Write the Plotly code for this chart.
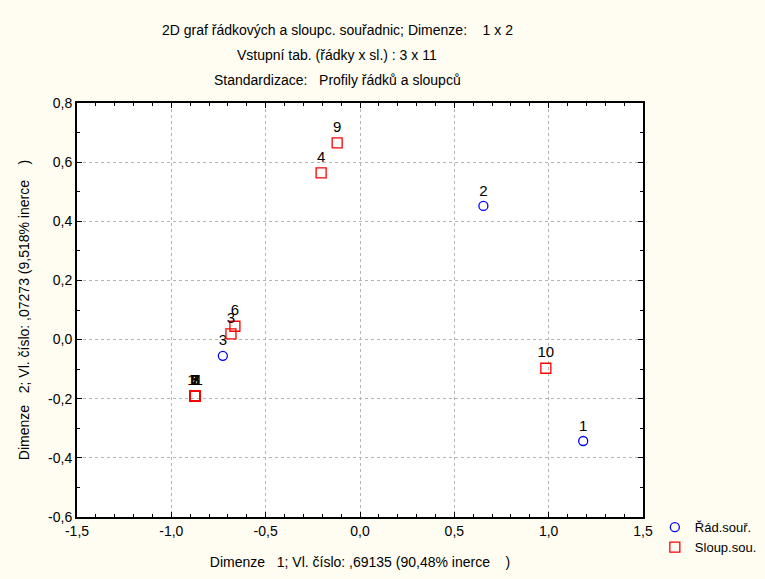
import plotly.graph_objects as go

# Row coordinates (circles)
row_labels = ["1", "2", "3"]
row_x = [1.183, 0.654, -0.727]
row_y = [-0.343, 0.452, -0.055]

# Column coordinates (squares)
col_labels = ["1", "2", "3", "4", "5", "6", "7", "8", "9", "10", "11"]
col_x = [-0.874, -0.874, -0.684, -0.206, -0.874, -0.663, -0.874, -0.874, -0.121, 0.985, -0.874]
col_y = [-0.191, -0.191, 0.019, 0.564, -0.191, 0.045, -0.191, -0.191, 0.665, -0.097, -0.191]

x_ticks = [-1.5, -1.0, -0.5, 0.0, 0.5, 1.0, 1.5]
y_ticks = [-0.6, -0.4, -0.2, 0.0, 0.2, 0.4, 0.6, 0.8]

title_lines = [
    "2D graf řádkových a sloupc. souřadnic; Dimenze:    1 x 2",
    "Vstupní tab. (řádky x sl.) : 3 x 11",
    "Standardizace:   Profily řádků a sloupců",
]

def fmt(v, d):
    return f"{v:.{d}f}".replace(".", ",")

FONT = "Liberation Sans, Arial, sans-serif"

fig = go.Figure()
fig.add_trace(go.Scatter(
    x=row_x, y=row_y, mode="markers+text", text=row_labels,
    textposition="top center", textfont=dict(size=15, color="black", family=FONT),
    marker=dict(symbol="circle-open", size=9, color="#0000ff", line=dict(width=1.3)),
    name="Řád.souř.", cliponaxis=False))
fig.add_trace(go.Scatter(
    x=col_x, y=col_y, mode="markers+text", text=col_labels,
    textposition="top center", textfont=dict(size=15, color="black", family=FONT),
    marker=dict(symbol="square-open", size=10, color="#ff0000", line=dict(width=1.3)),
    name="Sloup.sou.", cliponaxis=False))

axis_common = dict(
    showline=True, linecolor="black", linewidth=2, mirror="ticks",
    ticks="inside", ticklen=5, tickcolor="black",
    showgrid=True, gridcolor="#b4b4b4", griddash="dot", gridwidth=1,
    zeroline=False, tickfont=dict(size=14, color="black", family=FONT),
    automargin=False,
)

fig.update_xaxes(
    range=[-1.5, 1.5], tickvals=x_ticks, ticktext=[fmt(v, 1) for v in x_ticks],
    minor=dict(dtick=0.1, ticks="inside", ticklen=3, tickcolor="black", showgrid=False),
    title=dict(text="Dimenze   1; Vl. číslo: ,69135 (90,48% inerce    )",
               font=dict(size=14, color="black", family=FONT), standoff=19),
    **axis_common)
fig.update_yaxes(
    range=[-0.6, 0.8], tickvals=y_ticks, ticktext=[fmt(v, 1) for v in y_ticks],
    minor=dict(dtick=0.1, ticks="inside", ticklen=3, tickcolor="black", showgrid=False),
    title=dict(text="Dimenze   2; Vl. číslo: ,07273 (9,518% inerce    )",
               font=dict(size=14, color="black", family=FONT), standoff=15),
    **axis_common)

L, R, T, B = 77, 122, 103, 62
pw = 765 - L - R
ph = 579 - T - B

def px2paper(px, py):
    return (px - L) / pw, (579 - B - py) / ph

anns = []
for t, py in zip(title_lines, [30, 55, 80]):
    xp, yp = px2paper(337, py)
    anns.append(dict(text=t.replace("  ", "&nbsp; "), x=xp, y=yp, xref="paper", yref="paper",
                     showarrow=False, xanchor="center", yanchor="middle",
                     font=dict(size=14, color="black", family=FONT)))

fig.update_layout(
    width=765, height=579,
    margin=dict(l=L, r=R, t=T, b=B, autoexpand=False),
    paper_bgcolor="#fffdf2", plot_bgcolor="white",
    showlegend=True,
    legend=dict(xref="container", yref="container", x=0.856, y=0.029,
                xanchor="left", yanchor="bottom",
                font=dict(size=13, color="black", family=FONT),
                bgcolor="rgba(0,0,0,0)", tracegroupgap=0, itemwidth=30),
    annotations=anns,
)

fig.write_html("out.html")
